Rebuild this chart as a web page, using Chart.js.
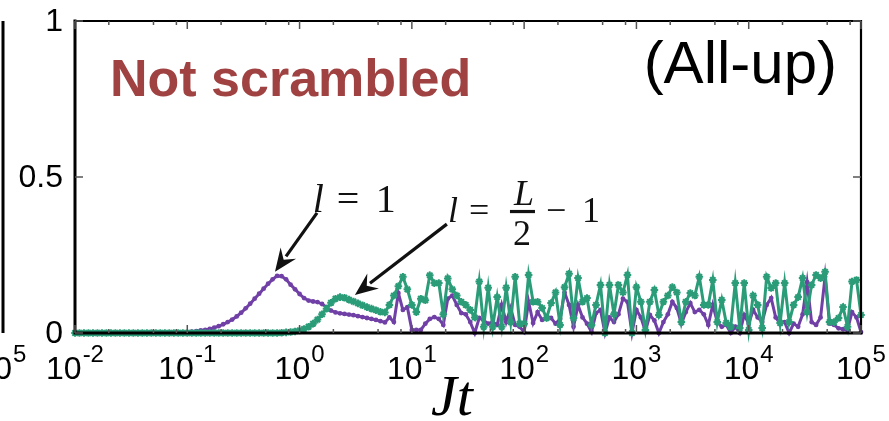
<!DOCTYPE html>
<html><head><meta charset="utf-8">
<script src="https://cdn.jsdelivr.net/npm/chart.js@4/dist/chart.umd.min.js"></script>
<style>html,body{margin:0;padding:0;background:#fff;overflow:hidden}canvas{display:block}</style>
</head><body>
<canvas id="c" width="889" height="421"></canvas>
<script>
// ---- sampling grid (log-spaced times Jt) ----
const decadeStarts = [0.01, 0.1, 1, 10, 100, 1000, 10000];
const decadeSteps = [1, 1.096, 1.202, 1.318, 1.445, 1.585, 1.738, 1.905, 2.089, 2.291, 2.512, 2.754, 3.020, 3.311, 3.631, 3.981, 4.365, 4.786, 5.248, 5.754, 6.310, 6.918, 7.586, 8.318, 9.120];
const lastTime = 100000;

// ---- series: l = 1 (purple) ----
const seriesL1 = [
0,0,0,0,0,0,0,0,0,0,
0,0,0,0,0,0,0,0,0.001,0.001,
0.001,0.001,0.001,0.002,0.002,0.003,0.004,0.006,0.008,0.010,
0.013,0.017,0.022,0.028,0.035,0.043,0.053,0.065,0.079,0.094,
0.110,0.126,0.142,0.158,0.172,0.183,0.182,0.172,0.155,0.140,
0.125,0.112,0.104,0.101,0.099,0.093,0.083,0.072,0.066,0.063,
0.061,0.059,0.057,0.054,0.051,0.048,0.045,0.042,0.038,0.034,
0.050,0.035,0.128,0.074,0.083,0.010,0.010,0.010,0.030,0.045,
0.051,0.045,0.026,0.110,0.120,0.090,0.064,0.060,0.035,0.000,
0.048,0.040,0.030,0.035,0.026,0.090,0.035,0.080,0.026,0.020,
0.003,0.100,0.032,0.067,0.042,0.051,0.048,0.030,0.045,0.130,
0.090,0.020,0.090,0.050,0.030,0.003,0.064,0.074,0.000,0.050,
0.035,0.060,0.110,0.100,0.000,0.074,0.050,0.005,0.058,0.040,
0.000,0.035,0.060,0.100,0.080,0.030,0.067,0.096,0.067,0.074,
0.060,0.026,0.090,0.035,0.020,0.026,0.000,0.020,0.000,0.058,
0.030,0.074,0.050,0.035,0.090,0.112,0.050,0.030,0.035,0.000,
0.030,0.020,0.060,0.163,0.035,0.026,0.050,0.180,0.030,0.026,
0.015,0.012,0.010,0.067,0.050,0.003
];

// ---- series: l = L/2 - 1 (green) ----
const seriesLhalf = [
0,0,0,0,0,0,0,0,0,0,
0,0,0,0,0,0,0,0,0,0,
0,0,0,0,0,0,0,0,0,0,
0,0,0,0,0,0,0,0,0,0,
0,0,0,0,0,0,0.001,0.002,0.003,0.005,
0.008,0.013,0.020,0.030,0.043,0.060,0.078,0.097,0.110,0.115,
0.113,0.107,0.101,0.095,0.089,0.083,0.078,0.073,0.068,0.066,
0.090,0.120,0.150,0.180,0.140,0.090,0.067,0.110,0.105,0.185,
0.160,0.160,0.060,0.175,0.140,0.120,0.100,0.090,0.074,0.050,
0.165,0.020,0.145,0.020,0.115,0.020,0.145,0.035,0.180,0.030,
0.030,0.186,0.100,0.100,0.080,0.048,0.096,0.130,0.026,0.147,
0.190,0.048,0.176,0.100,0.112,0.026,0.090,0.154,0.000,0.154,
0.060,0.154,0.130,0.186,0.000,0.147,0.100,0.010,0.100,0.138,
0.058,0.100,0.120,0.147,0.130,0.035,0.100,0.128,0.120,0.180,
0.090,0.090,0.170,0.035,0.106,0.032,0.020,0.160,0.016,0.160,
0.010,0.120,0.090,0.016,0.180,0.144,0.160,0.032,0.160,0.035,
0.090,0.115,0.176,0.067,0.154,0.186,0.176,0.196,0.035,0.035,
0.048,0.083,0.020,0.165,0.170,0.058
];

// ---- ticks ----
const xMajorTicks = [0.01, 0.1, 1, 10, 100, 1000, 10000, 100000];
const xMajorExponents = ['-2', '-1', '0', '1', '2', '3', '4', '5'];
const xMinorTicks = [0.02,0.05,0.08, 0.2,0.5,0.8, 2,5,8, 20,50,80, 200,500,800, 2000,5000,8000, 20000,50000,80000];
const yTicks = [0, 0.5, 1];
const yTickLabels = ['0', '0.5', '1'];

// ---- annotation anchors (data coordinates) ----
const arrowL1 = {from: [1.43, 0.385], to: [0.604, 0.196]};
const arrowLhalf = {from: [20.5, 0.349], to: [3.11, 0.122]};
const labelL1At = [1.31, 0.388];
const labelLhalfAt = [20.97, 0.356];

const PURPLE = '#7040a6';
const GREEN = '#2b9c78';

const times = [];
for (const d of decadeStarts) for (const s of decadeSteps) times.push(+(d * s).toPrecision(4));
times.push(lastTime);
const ptsL1 = times.map((t, i) => ({x: t, y: seriesL1[i]}));
const ptsLhalf = times.map((t, i) => ({x: t, y: seriesLhalf[i]}));

const SANS = '"Liberation Sans", Arial, Helvetica, sans-serif';
const SERIF = '"Liberation Serif", "Times New Roman", serif';

function drawArrow(ctx, x0, y0, x1, y1) {
  const ang = Math.atan2(y1 - y0, x1 - x0);
  const L = 23, W = 9.5;
  const bx = x1 - L * Math.cos(ang), by = y1 - L * Math.sin(ang);
  ctx.lineWidth = 3.2;
  ctx.strokeStyle = '#111';
  ctx.fillStyle = '#111';
  ctx.beginPath(); ctx.moveTo(x0, y0); ctx.lineTo(bx + 4 * Math.cos(ang), by + 4 * Math.sin(ang)); ctx.stroke();
  ctx.beginPath();
  ctx.moveTo(x1, y1);
  ctx.lineTo(bx + W * Math.sin(ang), by - W * Math.cos(ang));
  ctx.lineTo(bx + 0.35 * L * Math.cos(ang), by + 0.35 * L * Math.sin(ang));
  ctx.lineTo(bx - W * Math.sin(ang), by + W * Math.cos(ang));
  ctx.closePath(); ctx.fill();
}

function tenPow(ctx, cx, base, exp, alignRight) {
  ctx.font = '32px ' + SANS;
  const w1 = ctx.measureText('10').width;
  ctx.font = '24px ' + SANS;
  const w2 = ctx.measureText(exp).width;
  const start = alignRight ? cx - w1 : cx - (w1 + w2 + 1) / 2;
  ctx.textAlign = 'left'; ctx.textBaseline = 'alphabetic';
  ctx.font = '32px ' + SANS;
  ctx.fillText('10', start, base);
  ctx.font = '24px ' + SANS;
  ctx.fillText(exp, start + w1 + 1, base - 17);
}

const deco = {
  id: 'deco',
  afterDatasetsDraw(chart) {
    const {ctx, chartArea: a, scales: {x, y}} = chart;
    ctx.save();
    // left neighbour panel edge
    ctx.strokeStyle = '#000'; ctx.lineWidth = 3;
    ctx.beginPath(); ctx.moveTo(3, a.top); ctx.lineTo(3, a.bottom); ctx.stroke();
    // frame
    ctx.lineCap = 'square';
    ctx.lineWidth = 3;
    ctx.beginPath(); ctx.moveTo(a.left, a.top); ctx.lineTo(a.left, a.bottom); ctx.lineTo(a.right, a.bottom); ctx.stroke();
    ctx.lineWidth = 2.2;
    ctx.beginPath(); ctx.moveTo(a.left, a.top); ctx.lineTo(a.right, a.top); ctx.lineTo(a.right, a.bottom); ctx.stroke();
    // inward ticks
    ctx.lineCap = 'butt';
    ctx.strokeStyle = '#555'; ctx.lineWidth = 1.5;
    const seg = (x0, y0, x1, y1) => { ctx.beginPath(); ctx.moveTo(x0, y0); ctx.lineTo(x1, y1); ctx.stroke(); };
    for (const v of xMajorTicks) { const p = x.getPixelForValue(v); seg(p, a.bottom, p, a.bottom - 8); seg(p, a.top, p, a.top + 8); }
    for (const v of xMinorTicks) { const p = x.getPixelForValue(v); seg(p, a.bottom, p, a.bottom - 4); seg(p, a.top, p, a.top + 4); }
    for (const v of yTicks) { const p = y.getPixelForValue(v); seg(a.left, p, a.left + 8, p); seg(a.right, p, a.right - 8, p); }
    // y labels
    ctx.fillStyle = '#000';
    ctx.font = '32px ' + SANS; ctx.textAlign = 'right'; ctx.textBaseline = 'middle';
    yTicks.forEach((v, i) => ctx.fillText(yTickLabels[i], a.left - 12, y.getPixelForValue(v) + 1));
    // x labels
    xMajorTicks.forEach((v, i) => tenPow(ctx, x.getPixelForValue(v), a.bottom + 46, xMajorExponents[i], false));
    // neighbour panel's cut label
    tenPow(ctx, 12, a.bottom + 46, '5', true);
    // axis title
    ctx.font = 'italic 58px ' + SERIF; ctx.textAlign = 'center'; ctx.textBaseline = 'alphabetic';
    ctx.fillText('Jt', (a.left + a.right) / 2 - 16, a.bottom + 82);
    // panel labels
    ctx.font = 'bold 52px ' + SANS; ctx.fillStyle = '#a04242'; ctx.textAlign = 'left';
    ctx.fillText('Not scrambled', a.left + 35, a.top + 75);
    ctx.font = '60px ' + SANS; ctx.fillStyle = '#000'; ctx.textAlign = 'right';
    ctx.fillText('(All-up)', a.right - 24, a.top + 62);
    // arrows
    for (const ar of [arrowL1, arrowLhalf]) {
      drawArrow(ctx, x.getPixelForValue(ar.from[0]), y.getPixelForValue(ar.from[1]),
                     x.getPixelForValue(ar.to[0]), y.getPixelForValue(ar.to[1]));
    }
    // label l = 1
    ctx.fillStyle = '#111'; ctx.textAlign = 'left'; ctx.textBaseline = 'alphabetic';
    let lx = x.getPixelForValue(labelL1At[0]), ly = y.getPixelForValue(labelL1At[1]);
    ctx.font = 'italic 40px ' + SERIF; ctx.fillText('l', lx, ly);
    ctx.font = '40px ' + SERIF; ctx.fillText('=', lx + 24, ly); ctx.fillText('1', lx + 63, ly);
    // label l = L/2 - 1
    lx = x.getPixelForValue(labelLhalfAt[0]); ly = y.getPixelForValue(labelLhalfAt[1]);
    ctx.font = 'italic 36px ' + SERIF; ctx.fillText('l', lx, ly);
    ctx.font = '36px ' + SERIF; ctx.fillText('=', lx + 21, ly);
    ctx.fillRect(lx + 62, ly - 12, 25, 3.2);
    ctx.textAlign = 'center';
    ctx.font = 'italic 36px ' + SERIF; ctx.fillText('L', lx + 76, ly - 17);
    ctx.font = '36px ' + SERIF; ctx.fillText('2', lx + 74, ly + 23);
    ctx.textAlign = 'left';
    ctx.fillText('\u2212', lx + 98, ly); ctx.fillText('1', lx + 134, ly);
    ctx.restore();
  }
};

new Chart(document.getElementById('c'), {
  type: 'line',
  data: {
    datasets: [
      {label: 'l = L/2 - 1', data: ptsLhalf, borderColor: GREEN, backgroundColor: GREEN,
       borderWidth: 3, pointStyle: 'star', pointRadius: 3.8, pointBorderWidth: 2,
       pointBorderColor: GREEN, pointBackgroundColor: GREEN, tension: 0, clip: false},
      {label: 'l = 1', data: ptsL1, borderColor: PURPLE, backgroundColor: PURPLE,
       borderWidth: 3, pointStyle: 'circle', pointRadius: 2.4, pointBorderWidth: 0,
       pointBackgroundColor: PURPLE, tension: 0, clip: false}
    ]
  },
  options: {
    responsive: false, animation: false, devicePixelRatio: 1,
    layout: {padding: {left: 75, right: 28, top: 21, bottom: 88}},
    plugins: {legend: {display: false}, tooltip: {enabled: false}},
    scales: {
      x: {type: 'logarithmic', min: 0.01, max: 100000, display: false},
      y: {type: 'linear', min: 0, max: 1, display: false}
    }
  },
  plugins: [deco]
});
</script>
</body></html>
